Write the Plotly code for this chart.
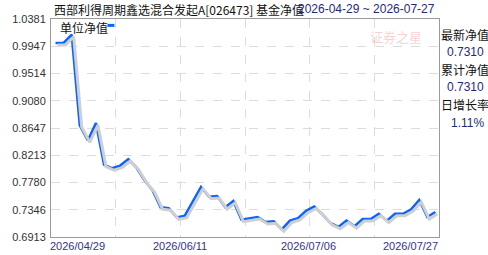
import plotly.graph_objects as go

# ---- data ----
nav_values = [1.0000, 1.0000, 1.0131, 0.8690, 0.8449, 0.8725, 0.8064, 0.8006,
              0.8049, 0.8152, 0.8022, 0.7814, 0.7658, 0.7386, 0.7371, 0.7225,
              0.7252, 0.7475, 0.7710, 0.7553, 0.7564, 0.7386, 0.7486, 0.7189,
              0.7210, 0.7230, 0.7152, 0.7163, 0.7033, 0.7174, 0.7214, 0.7330,
              0.7397, 0.7277, 0.7136, 0.7074, 0.7174, 0.7085, 0.7199, 0.7199,
              0.7283, 0.7174, 0.7283, 0.7283, 0.7355, 0.7502, 0.7230, 0.7310]
x_idx = list(range(len(nav_values)))
y_ticks = [1.0381, 0.99475, 0.9514, 0.90805, 0.8647, 0.82135, 0.7780, 0.73465, 0.6913]
y_tick_text = ["1.0381", "0.9947", "0.9514", "0.9080", "0.8647", "0.8213", "0.7780", "0.7346", "0.6913"]
x_labels = ["2026/04/29", "2026/06/11", "2026/07/06", "2026/07/27"]
title_text = "西部利得周期鑫选混合发起A[026473] 基金净值"
range_text = "2026-04-29 ~ 2026-07-27"
panel_labels = ["最新净值", "累计净值", "日增长率"]
panel_values = ["0.7310", "0.7310", "1.11%"]
legend_name = "单位净值"

# ---- layout geometry ----
W, H = 488, 255
L, R, T, B = 47, 438.7, 19, 241
pw, ph = R - L, B - T
xr = [-0.56, 47.45]
yr = [0.6913, 1.0381]
px_per_x = pw / (xr[1] - xr[0])
val_per_px = (yr[1] - yr[0]) / ph
sx = 2 / px_per_x
sy = 2 * val_per_px

def px(p):
    return (p - L) / pw

def py(p):
    return (B - p) / ph

FONT = "Liberation Sans, Arial, Noto Sans CJK SC"
CJK = "Noto Sans CJK SC, Liberation Sans"
NAVY = "#1f2a7a"

fig = go.Figure()
# shadow
fig.add_trace(go.Scatter(x=x_idx, y=nav_values, mode="lines", xaxis="x2", yaxis="y2",
                         line=dict(color="#cfcfcf", width=3), hoverinfo="skip", showlegend=False))
fig.add_trace(go.Scatter(x=x_idx, y=nav_values, mode="lines", name=legend_name,
                         line=dict(color="#0a64ff", width=2.5), showlegend=False))

grid_x = [xr[0] + k * (xr[1] - xr[0]) / 6 for k in range(1, 6)]

fig.update_layout(
    width=W, height=H,
    margin=dict(l=L, r=W - R, t=T, b=H - B, pad=0),
    paper_bgcolor="white", plot_bgcolor="white",
    xaxis=dict(range=xr, tickvals=grid_x, showticklabels=False, ticks="",
               showgrid=True, gridcolor="#dcdcdc", griddash="dash", gridwidth=1,
               showline=True, linecolor="#9a9a9a", linewidth=1, mirror=True, zeroline=False,
               fixedrange=True),
    yaxis=dict(range=yr, tickvals=y_ticks, ticktext=y_tick_text, ticks="",
               tickfont=dict(family=FONT, size=11, color="#333333"),
               showgrid=True, gridcolor="#dcdcdc", griddash="dash", gridwidth=1,
               showline=True, linecolor="#9a9a9a", linewidth=1, mirror=True, zeroline=False,
               ticklabelstandoff=2, fixedrange=True),
    xaxis2=dict(range=[xr[0] - sx, xr[1] - sx], overlaying="x", visible=False, fixedrange=True),
    yaxis2=dict(range=[yr[0] + sy, yr[1] + sy], overlaying="y", visible=False, fixedrange=True),
    showlegend=False,
)

ann = []
ann.append(dict(text=title_text, x=px(48), y=py(9), xanchor="left", yanchor="middle",
                font=dict(family=CJK, size=12, color="#111111")))
ann.append(dict(text=range_text, x=px(437), y=py(9), xanchor="right", yanchor="middle",
                font=dict(family=FONT, size=12, color=NAVY)))
ann.append(dict(text=legend_name, x=px(54), y=py(28), xanchor="left", yanchor="middle",
                font=dict(family=CJK, size=12, color="#111111")))
ann.append(dict(text="证券之星", x=px(395), y=py(37), xanchor="center", yanchor="middle",
                font=dict(family=CJK, size=13, color="rgba(230,90,90,0.28)")))
x_pos = [(44, "left"), (177, "center"), (307, "center"), (440, "right")]
for lbl, (xp, anc) in zip(x_labels, x_pos):
    ann.append(dict(text=lbl, x=px(xp), y=py(250), xanchor=anc, yanchor="middle",
                    font=dict(family=FONT, size=11, color="#333388")))
label_y = [35, 70, 106]
value_y = [53, 88, 125]
for lbl, val, ly, vy in zip(panel_labels, panel_values, label_y, value_y):
    ann.append(dict(text=lbl, x=px(439), y=py(ly), xanchor="left", yanchor="middle",
                    font=dict(family=CJK, size=12, color="#111111")))
    ann.append(dict(text=val, x=px(486), y=py(vy), xanchor="right", yanchor="middle",
                    font=dict(family=FONT, size=12, color=NAVY)))
for a in ann:
    a.update(xref="paper", yref="paper", showarrow=False)
fig.update_layout(annotations=ann)

fig.add_shape(type="line", xref="paper", yref="paper",
              x0=px(104), x1=px(111), y0=py(25.5), y1=py(25.5),
              line=dict(color="#0a64ff", width=3))

fig.write_html("out.html")
